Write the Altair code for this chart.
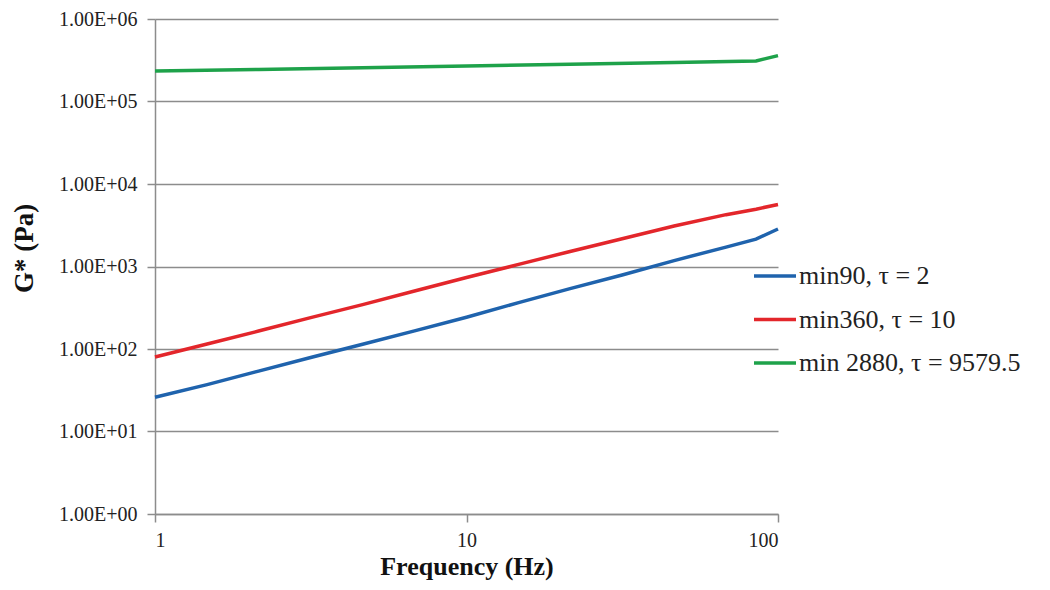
import altair as alt
import pandas as pd

freq = [1, 1.47, 2.15, 3.16, 4.64, 6.81, 10, 14.7, 21.5, 31.6, 46.4, 68.1, 85, 100]
blue = [26, 37, 54, 79, 114, 166, 243, 365, 540, 790, 1180, 1720, 2150, 2850]
red = [80, 115, 165, 240, 345, 505, 735, 1060, 1520, 2170, 3100, 4250, 4950, 5650]
freq_g = [1, 2.15, 4.64, 10, 21.5, 46.4, 85, 100]
green = [235000, 245000, 257000, 270000, 282000, 296000, 310000, 360000]

names = ["min90, \u03c4 = 2", "min360, \u03c4 = 10", "min 2880, \u03c4 = 9579.5"]
colors = ["#1f63ad", "#e3262b", "#1ea24a"]

rows = []
for f, v in zip(freq, blue):
    rows.append({"f": f, "g": v, "s": names[0]})
for f, v in zip(freq, red):
    rows.append({"f": f, "g": v, "s": names[1]})
for f, v in zip(freq_g, green):
    rows.append({"f": f, "g": v, "s": names[2]})
df = pd.DataFrame(rows)

font = "Liberation Serif"

chart = alt.Chart(df).mark_line(strokeWidth=3.5).encode(
    x=alt.X("f:Q", scale=alt.Scale(type="log", domain=[1, 100]),
            axis=alt.Axis(title="Frequency (Hz)", values=[1, 10, 100], format="d",
                          grid=False, tickSize=8, labelPadding=8, titlePadding=3,
                          labelFontSize=20, titleFontSize=26, titleFontWeight="bold")),
    y=alt.Y("g:Q", scale=alt.Scale(type="log", domain=[1, 1000000]),
            axis=alt.Axis(title="G* (Pa)", values=[1, 10, 100, 1000, 10000, 100000, 1000000],
                          labelExpr="replace(upper(format(datum.value, '.2e')), /E\\+?(\\d)$/, 'E+0$1')",
                          grid=True, tickSize=8, labelPadding=10,
                          labelFontSize=20, titleFontSize=27, titleFontWeight="bold",
                          titleX=-117, titleY=229)),
    color=alt.Color("s:N", sort=names,
                    scale=alt.Scale(domain=names, range=colors),
                    legend=alt.Legend(title=None, orient="none", legendX=597, legendY=234,
                                      symbolType="stroke", symbolSize=1764, symbolStrokeWidth=3.5,
                                      labelFontSize=26, labelOffset=1, rowPadding=7.5,
                                      labelFont=font, labelColor="#222222",
                                      labelLimit=400)),
).properties(
    width=623, height=495,
    autosize=alt.AutoSizeParams(type="none"),
    padding={"left": 147, "top": 11, "right": 262, "bottom": 68},
).configure_axis(
    labelFont=font, titleFont=font, labelColor="#222222", titleColor="#111111",
    domainColor="#8c8c8c", tickColor="#8c8c8c", gridColor="#8c8c8c",
    domainWidth=1.5, tickWidth=1.5, gridWidth=1.5, gridOpacity=1,
).configure_view(stroke=None)

chart.save("out.html", embed_options={"renderer": "svg", "actions": False})
